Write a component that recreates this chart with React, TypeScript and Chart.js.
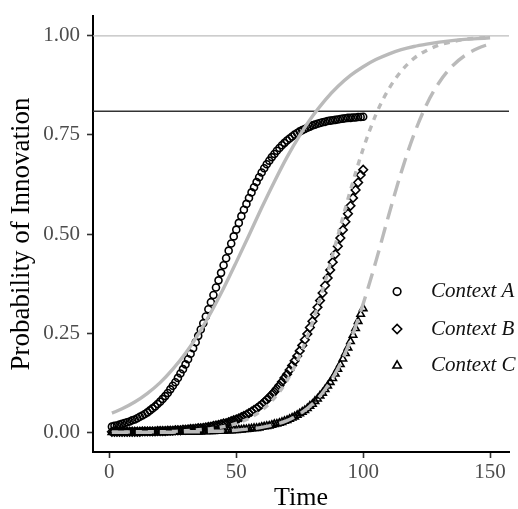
import React, { useEffect, useRef } from 'react';
import { Chart, registerables } from 'chart.js';
import { drawPoint } from 'chart.js/helpers';

Chart.register(...registerables);

// ---------- data ----------
const markerTimes: number[] = Array.from({ length: 100 }, (_, i) => i + 1);

const contextA: number[] = [
  0.014, 0.016, 0.017, 0.019, 0.021, 0.023, 0.025, 0.027, 0.030, 0.032,
  0.035, 0.039, 0.042, 0.046, 0.050, 0.055, 0.060, 0.065, 0.071, 0.077,
  0.084, 0.091, 0.099, 0.108, 0.117, 0.126, 0.137, 0.148, 0.159, 0.171,
  0.184, 0.198, 0.212, 0.227, 0.243, 0.259, 0.275, 0.292, 0.310, 0.328,
  0.346, 0.365, 0.383, 0.402, 0.421, 0.439, 0.458, 0.476, 0.494, 0.511,
  0.528, 0.545, 0.561, 0.576, 0.591, 0.605, 0.618, 0.631, 0.643, 0.655,
  0.666, 0.676, 0.685, 0.694, 0.702, 0.710, 0.717, 0.724, 0.730, 0.736,
  0.741, 0.746, 0.751, 0.755, 0.759, 0.762, 0.765, 0.768, 0.771, 0.774,
  0.776, 0.778, 0.780, 0.782, 0.783, 0.785, 0.786, 0.787, 0.788, 0.789,
  0.790, 0.791, 0.792, 0.793, 0.793, 0.794, 0.794, 0.795, 0.795, 0.796,
];

const contextB: number[] = [
  0.001, 0.001, 0.001, 0.001, 0.001, 0.001, 0.001, 0.001, 0.001, 0.001,
  0.001, 0.001, 0.002, 0.002, 0.002, 0.002, 0.002, 0.002, 0.003, 0.003,
  0.003, 0.003, 0.004, 0.004, 0.004, 0.005, 0.005, 0.005, 0.006, 0.006,
  0.007, 0.008, 0.008, 0.009, 0.010, 0.010, 0.011, 0.012, 0.013, 0.014,
  0.016, 0.017, 0.018, 0.020, 0.022, 0.023, 0.025, 0.028, 0.030, 0.032,
  0.035, 0.038, 0.041, 0.044, 0.048, 0.052, 0.056, 0.060, 0.065, 0.070,
  0.076, 0.082, 0.088, 0.095, 0.102, 0.110, 0.118, 0.127, 0.137, 0.146,
  0.157, 0.168, 0.180, 0.192, 0.205, 0.219, 0.233, 0.248, 0.264, 0.280,
  0.297, 0.315, 0.332, 0.351, 0.370, 0.389, 0.409, 0.429, 0.449, 0.469,
  0.490, 0.510, 0.531, 0.551, 0.571, 0.591, 0.611, 0.630, 0.649, 0.662,
];

const contextC: number[] = [
  0.000, 0.000, 0.000, 0.000, 0.000, 0.000, 0.000, 0.000, 0.000, 0.000,
  0.000, 0.000, 0.000, 0.000, 0.000, 0.000, 0.000, 0.000, 0.000, 0.000,
  0.000, 0.000, 0.000, 0.000, 0.001, 0.001, 0.001, 0.001, 0.001, 0.001,
  0.001, 0.001, 0.001, 0.001, 0.001, 0.001, 0.002, 0.002, 0.002, 0.002,
  0.002, 0.003, 0.003, 0.003, 0.003, 0.004, 0.004, 0.004, 0.005, 0.005,
  0.006, 0.006, 0.007, 0.007, 0.008, 0.009, 0.010, 0.010, 0.011, 0.013,
  0.014, 0.015, 0.016, 0.018, 0.020, 0.021, 0.023, 0.025, 0.028, 0.030,
  0.033, 0.036, 0.039, 0.043, 0.047, 0.051, 0.055, 0.060, 0.066, 0.071,
  0.078, 0.084, 0.092, 0.099, 0.108, 0.117, 0.126, 0.136, 0.147, 0.159,
  0.171, 0.185, 0.199, 0.213, 0.229, 0.245, 0.262, 0.280, 0.298, 0.312,
];

const curveTimes: number[] = [
  1, 5, 10, 15, 20, 25, 30, 35, 40, 45, 50, 55, 60, 65, 70, 75,
  80, 85, 90, 95, 100, 105, 110, 115, 120, 125, 130, 135, 140, 145, 150,
];

const solidCurve: number[] = [
  0.048, 0.059, 0.076, 0.098, 0.125, 0.159, 0.199, 0.247, 0.302, 0.363, 0.429,
  0.497, 0.566, 0.632, 0.694, 0.749, 0.797, 0.838, 0.872, 0.900, 0.922,
  0.940, 0.954, 0.965, 0.973, 0.979, 0.984, 0.988, 0.991, 0.993, 0.995,
];

const fitB: number[] = [
  0.000, 0.000, 0.001, 0.001, 0.001, 0.002, 0.004, 0.006, 0.009, 0.014, 0.022,
  0.035, 0.055, 0.086, 0.130, 0.193, 0.277, 0.380, 0.495, 0.611, 0.715,
  0.801, 0.865, 0.911, 0.943, 0.963, 0.977, 0.985, 0.991, 0.994, 0.996,
];

const fitC: number[] = [
  0.000, 0.000, 0.000, 0.000, 0.000, 0.000, 0.001, 0.001, 0.002, 0.003, 0.005,
  0.008, 0.012, 0.019, 0.029, 0.046, 0.071, 0.108, 0.160, 0.232, 0.324,
  0.431, 0.546, 0.656, 0.751, 0.827, 0.883, 0.923, 0.950, 0.968, 0.980,
];

const referenceLevels: number[] = [1.0, 0.81];
const yTickValues: number[] = [0, 0.25, 0.5, 0.75, 1.0];
const xTickValues: number[] = [0, 50, 100, 150];
const seriesLabels: string[] = ['Context A', 'Context B', 'Context C'];

// ---------- styling ----------
const X_MIN = -6.45;
const X_MAX = 157.45;
const Y_MIN = -0.05;
const Y_MAX = 1.05;
const SERIF = '"Liberation Serif", "Times New Roman", serif';
const GREY = '#bababa';
const markerStyles = ['circle', 'rectRot', 'triangle'];
const markerRadii = [3.5, 4.3, 4.3];
const legendRadii = [3.8, 4.6, 4.8];

const toPts = (xs: number[], ys: number[]) => xs.map((x, i) => ({ x, y: ys[i] }));

const insetLegend = {
  id: 'insetLegend',
  afterDatasetsDraw(chart: any) {
    const { ctx, chartArea } = chart;
    const w = chartArea.right - chartArea.left;
    const h = chartArea.bottom - chartArea.top;
    const mx = chartArea.left + 0.731 * w;
    const tx = chartArea.left + 0.8125 * w;
    const rows = [0.632, 0.718, 0.802];
    ctx.save();
    seriesLabels.forEach((label, i) => {
      const y = chartArea.top + rows[i] * h;
      ctx.strokeStyle = '#000';
      ctx.fillStyle = 'rgba(0,0,0,0)';
      ctx.lineWidth = 1.6;
      drawPoint(ctx, { pointStyle: markerStyles[i], radius: legendRadii[i], borderWidth: 1.6, rotation: 0 } as any, mx, y);
      ctx.fillStyle = '#111';
      ctx.font = `italic 21px ${SERIF}`;
      ctx.textAlign = 'left';
      ctx.textBaseline = 'middle';
      ctx.fillText(label, tx, y);
    });
    ctx.restore();
  },
};

export default function App() {
  const canvasRef = useRef<HTMLCanvasElement | null>(null);

  useEffect(() => {
    if (!canvasRef.current) return;

    const greyCurve = (label: string, ys: number[], dash: number[]) => ({
      label,
      data: toPts(curveTimes, ys),
      borderColor: GREY,
      borderWidth: 3.4,
      borderDash: dash,
      pointRadius: 0,
      fill: false,
      cubicInterpolationMode: 'monotone' as const,
    });

    const markerSet = (i: number, ys: number[]) => ({
      label: seriesLabels[i],
      data: toPts(markerTimes, ys),
      showLine: false,
      pointStyle: markerStyles[i],
      pointRadius: markerRadii[i],
      pointBorderWidth: 1.6,
      pointBorderColor: '#000',
      pointBackgroundColor: 'rgba(0,0,0,0)',
      borderColor: '#000',
      backgroundColor: 'rgba(0,0,0,0)',
    });

    const refLine = (level: number, color: string, width: number) => ({
      label: `ref ${level}`,
      data: [
        { x: X_MIN, y: level },
        { x: X_MAX, y: level },
      ],
      borderColor: color,
      borderWidth: width,
      pointRadius: 0,
      fill: false,
    });

    const chart = new Chart(canvasRef.current, {
      type: 'line',
      data: {
        datasets: [
          greyCurve('overall', solidCurve, []),
          greyCurve('fit B', fitB, [6, 6]),
          greyCurve('fit C', fitC, [16, 8]),
          markerSet(0, contextA),
          markerSet(1, contextB),
          markerSet(2, contextC),
          refLine(referenceLevels[0], '#bdbdbd', 1.2),
          refLine(referenceLevels[1], '#333333', 1.5),
        ] as any,
      },
      options: {
        animation: false,
        responsive: true,
        maintainAspectRatio: false,
        devicePixelRatio: 1,
        events: [],
        layout: { padding: { top: 16, right: 9, left: 0, bottom: 0 } },
        plugins: {
          legend: { display: false },
          tooltip: { enabled: false },
        },
        scales: {
          x: {
            type: 'linear',
            min: X_MIN,
            max: X_MAX,
            afterFit: (s: any) => {
              s.height = 57;
              s.paddingLeft = 0;
              s.paddingRight = 0;
            },
            afterBuildTicks: (s: any) => {
              s.ticks = xTickValues.map((value) => ({ value }));
            },
            grid: {
              drawOnChartArea: false,
              drawTicks: true,
              tickLength: 6,
              tickColor: '#333333',
              tickWidth: 1.6,
            },
            border: { display: true, color: '#000', width: 2 },
            ticks: {
              padding: 2,
              color: '#4d4d4d',
              font: { family: SERIF, size: 21 },
              maxRotation: 0,
              callback: (v: any) => String(v),
            },
            title: {
              display: true,
              text: 'Time',
              color: '#000',
              font: { family: SERIF, size: 26, lineHeight: 0.8 },
              padding: { top: 0, bottom: 0 },
            },
          },
          y: {
            type: 'linear',
            min: Y_MIN,
            max: Y_MAX,
            afterFit: (s: any) => {
              s.width = 93;
              s.paddingTop = 0;
              s.paddingBottom = 0;
            },
            afterBuildTicks: (s: any) => {
              s.ticks = yTickValues.map((value) => ({ value }));
            },
            grid: {
              drawOnChartArea: false,
              drawTicks: true,
              tickLength: 6,
              tickColor: '#333333',
              tickWidth: 1.6,
            },
            border: { display: true, color: '#000', width: 2 },
            ticks: {
              padding: 7,
              color: '#4d4d4d',
              font: { family: SERIF, size: 21 },
              callback: (v: any) => Number(v).toFixed(2),
            },
            title: {
              display: true,
              text: 'Probability of Innovation',
              color: '#000',
              font: { family: SERIF, size: 27 },
              padding: { top: 6, bottom: 0 },
            },
          },
        },
      } as any,
      plugins: [insetLegend],
    });

    return () => chart.destroy();
  }, []);

  return (
    <div style={{ position: 'fixed', left: 0, top: 0, width: 518, height: 509, background: '#fff' }}>
      <canvas ref={canvasRef} />
    </div>
  );
}
